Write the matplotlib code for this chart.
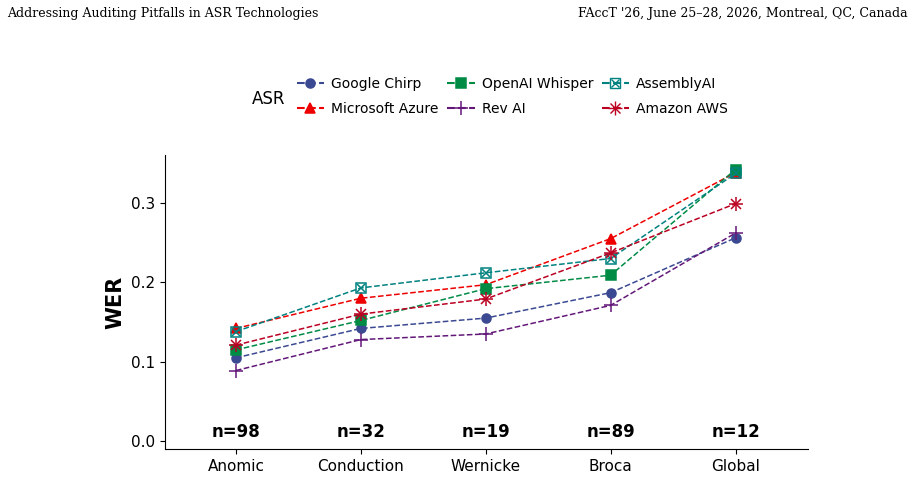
import matplotlib.pyplot as plt
from matplotlib.lines import Line2D

categories = ["Anomic", "Conduction", "Wernicke", "Broca", "Global"]
counts = ["n=98", "n=32", "n=19", "n=89", "n=12"]

google_chirp = [0.105, 0.142, 0.155, 0.187, 0.256]
microsoft_azure = [0.142, 0.180, 0.197, 0.255, 0.338]
openai_whisper = [0.115, 0.152, 0.192, 0.209, 0.342]
rev_ai = [0.089, 0.128, 0.135, 0.171, 0.262]
assembly_ai = [0.138, 0.193, 0.212, 0.230, 0.337]
amazon_aws = [0.121, 0.160, 0.179, 0.237, 0.299]

series = [
  ("Google Chirp", google_chirp, "#3B4992", "o", 6.5),
  ("Microsoft Azure", microsoft_azure, "#EE0000", "^", 7.5),
  ("OpenAI Whisper", openai_whisper, "#008B45", "s", 6.5),
  ("Rev AI", rev_ai, "#631879", "+", 10),
  ("AssemblyAI", assembly_ai, "#008280", "s", 7),
  ("Amazon AWS", amazon_aws, "#BB0021", "x", 7),
]

fig = plt.figure(figsize=(9.15, 4.82), dpi=100)
ax = fig.add_axes([0.180, 0.068, 0.703, 0.61])
x = list(range(len(categories)))

handles = []
for name, vals, color, marker, ms in series:
  if name == "AssemblyAI":
    ax.plot(x, vals, color=color, ls="--", lw=1.1)
    ax.plot(x, vals, ls="none", marker="s", ms=ms, mfc="none", mec=color, mew=1.1)
    ax.plot(x, vals, ls="none", marker="x", ms=6, color=color, mew=1.1)
    h = (Line2D([], [], color=color, ls="--", marker="s", ms=ms, mfc="none", mec=color),
         Line2D([], [], color=color, ls="none", marker="x", ms=6))
  elif name == "Amazon AWS":
    ax.plot(x, vals, color=color, ls="--", lw=1.1, marker="x", ms=ms, mew=1.1)
    ax.plot(x, vals, ls="none", marker="+", ms=10, color=color, mew=1.1)
    h = (Line2D([], [], color=color, ls="--", marker="x", ms=ms),
         Line2D([], [], color=color, ls="none", marker="+", ms=10))
  else:
    ax.plot(x, vals, color=color, ls="--", lw=1.1, marker=marker, ms=ms, mew=1.1)
    h = Line2D([], [], color=color, ls="--", marker=marker, ms=ms, mew=1.1)
  handles.append((h, name))

for xi, c in zip(x, counts):
  ax.text(xi, 0.0, c, ha="center", va="bottom", fontsize=12, fontweight="bold")

ax.set_xlim(-0.57, 4.58)
ax.set_ylim(-0.01, 0.36)
ax.set_xticks(x)
ax.set_xticklabels(categories, fontsize=11)
ax.set_yticks([0.0, 0.1, 0.2, 0.3])
ax.set_yticklabels(["0.0", "0.1", "0.2", "0.3"], fontsize=11)
ax.set_ylabel("WER", fontsize=15, fontweight="bold")
for s in ["top", "right"]:
  ax.spines[s].set_visible(False)

fig.legend([h for h, _ in handles], [n for _, n in handles],
           ncol=3, loc="center", bbox_to_anchor=(0.56, 0.8), frameon=False,
           fontsize=10, handlelength=2.0, columnspacing=0.6, labelspacing=0.8,
           handletextpad=0.5)
fig.text(0.275, 0.795, "ASR", fontsize=12, va="center")

fig.text(0.008, 0.972, "Addressing Auditing Pitfalls in ASR Technologies",
         family="DejaVu Serif", fontsize=9, va="center")
fig.text(0.992, 0.972, "FAccT '26, June 25–28, 2026, Montreal, QC, Canada",
         family="DejaVu Serif", fontsize=9, va="center", ha="right")

fig.savefig("out.png", dpi=100)
